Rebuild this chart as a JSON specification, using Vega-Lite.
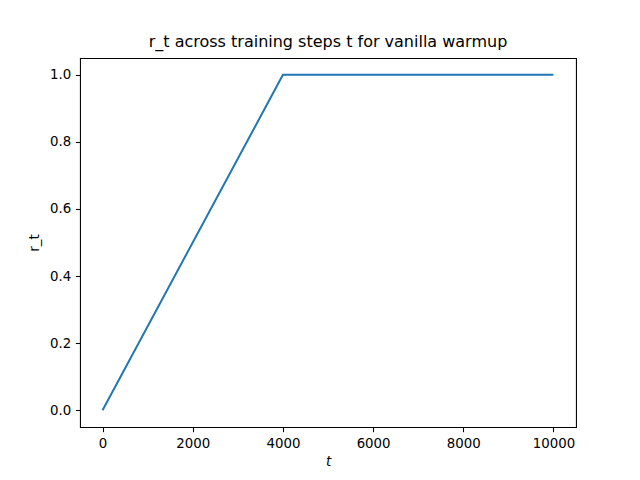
{
  "$schema": "https://vega.github.io/schema/vega-lite/v6.json",
  "background": "white",
  "autosize": {"type": "none"},
  "width": 496,
  "height": 369,
  "padding": {"top": 58, "left": 80, "right": 64, "bottom": 53},
  "title": {
    "text": "r_t across training steps t for vanilla warmup",
    "font": "DejaVu Sans",
    "fontSize": 16,
    "fontWeight": "normal",
    "color": "black",
    "offset": 8,
    "anchor": "middle"
  },
  "data": {
    "values": [
      {"t": 0, "r_t": 0},
      {"t": 4000, "r_t": 1},
      {"t": 10000, "r_t": 1}
    ]
  },
  "mark": {"type": "line", "color": "#1f77b4", "strokeWidth": 2, "clip": false},
  "encoding": {
    "x": {
      "field": "t",
      "type": "quantitative",
      "scale": {"domain": [-500, 10500], "nice": false, "zero": false},
      "axis": {
        "values": [0, 2000, 4000, 6000, 8000, 10000],
        "format": "d",
        "title": "t",
        "titleFontStyle": "italic",
        "titlePadding": 5
      }
    },
    "y": {
      "field": "r_t",
      "type": "quantitative",
      "scale": {"domain": [-0.05, 1.05], "nice": false, "zero": false},
      "axis": {
        "values": [0, 0.2, 0.4, 0.6, 0.8, 1.0],
        "format": ".1f",
        "title": "r_t",
        "titlePadding": 8
      }
    }
  },
  "config": {
    "view": {"stroke": "black", "strokeWidth": 1.07},
    "axis": {
      "grid": false,
      "domain": false,
      "tickColor": "black",
      "tickSize": 4.67,
      "tickWidth": 1.07,
      "labelPadding": 4.67,
      "labelFont": "DejaVu Sans",
      "labelFontSize": 13.33,
      "labelColor": "black",
      "titleFont": "DejaVu Sans",
      "titleFontSize": 13.33,
      "titleFontWeight": "normal",
      "titleColor": "black"
    }
  }
}
